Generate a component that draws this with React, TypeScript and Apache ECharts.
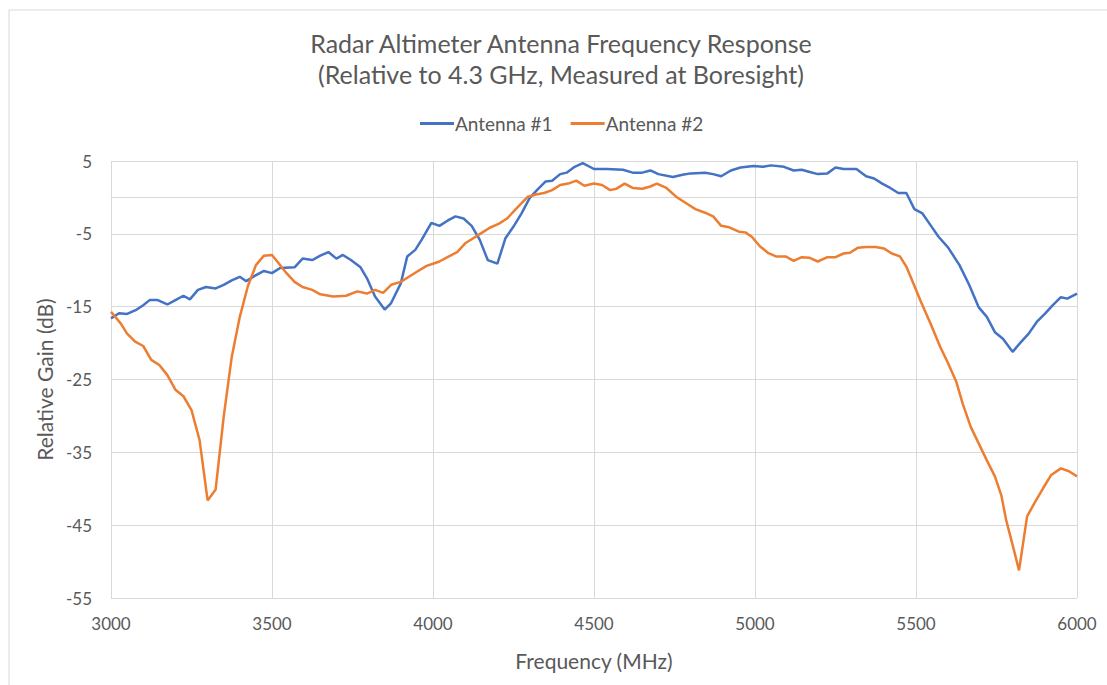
import React, { useEffect, useRef } from "react";
import * as echarts from "echarts";

const titleLines = ["Radar Altimeter Antenna Frequency Response", "(Relative to 4.3 GHz, Measured at Boresight)"];
const seriesNames = ["Antenna #1", "Antenna #2"];
const xAxisName = "Frequency (MHz)";
const yAxisName = "Relative Gain (dB)";

const freq1 = [
  3000, 3025, 3050, 3080, 3100, 3120, 3145, 3175, 3200, 3225, 3245, 3270, 3295, 3325, 3350, 3375, 3400, 3420, 3445, 3475,
  3500, 3525, 3570, 3595, 3625, 3650, 3675, 3700, 3720, 3745, 3775, 3795, 3820, 3850, 3870, 3900, 3920, 3945, 3965, 3995,
  4020, 4045, 4070, 4095, 4120, 4145, 4170, 4200, 4225, 4250, 4275, 4300, 4325, 4350, 4370, 4395, 4415, 4440, 4465, 4500,
  4540, 4590, 4620, 4650, 4675, 4700, 4745, 4775, 4800, 4845, 4870, 4895, 4925, 4955, 4995, 5025, 5050, 5090, 5120, 5145,
  5170, 5195, 5225, 5250, 5275, 5315, 5345, 5370, 5395, 5420, 5445, 5470, 5495, 5520, 5545, 5570, 5600, 5635, 5665, 5695,
  5720, 5745, 5770, 5800, 5825, 5850, 5875, 5900, 5925, 5950, 5970, 6000,
];
const gain1 = [
  -16.6, -15.9, -16.0, -15.4, -14.8, -14.1, -14.1, -14.7, -14.1, -13.5, -14.0, -12.7, -12.3, -12.5, -12.0, -11.4, -10.9, -11.5, -10.8, -10.1,
  -10.4, -9.7, -9.6, -8.4, -8.6, -8.0, -7.5, -8.4, -7.9, -8.6, -9.6, -11.1, -13.6, -15.4, -14.5, -11.8, -8.1, -7.2, -5.8, -3.5,
  -3.9, -3.2, -2.6, -2.9, -3.9, -5.8, -8.6, -9.1, -5.6, -4.0, -2.2, -0.1, 1.1, 2.2, 2.3, 3.2, 3.4, 4.2, 4.7, 3.9,
  3.9, 3.8, 3.4, 3.4, 3.7, 3.2, 2.8, 3.1, 3.3, 3.4, 3.2, 2.9, 3.7, 4.1, 4.3, 4.2, 4.4, 4.2, 3.7, 3.8,
  3.5, 3.2, 3.3, 4.1, 3.9, 3.9, 2.9, 2.6, 1.9, 1.3, 0.6, 0.6, -1.6, -2.2, -3.8, -5.4, -6.9, -9.3, -12.0, -15.1,
  -16.4, -18.5, -19.4, -21.2, -19.9, -18.7, -17.1, -16.0, -14.8, -13.7, -13.9, -13.2,
];

const freq2 = [
  3000, 3030, 3050, 3075, 3100, 3125, 3150, 3175, 3200, 3225, 3250, 3275, 3300, 3325, 3350, 3375, 3400, 3425, 3450, 3475,
  3500, 3520, 3545, 3570, 3595, 3625, 3650, 3690, 3730, 3765, 3795, 3820, 3845, 3870, 3900, 3925, 3950, 3980, 4000, 4020,
  4045, 4075, 4100, 4125, 4150, 4175, 4205, 4230, 4255, 4275, 4295, 4320, 4345, 4370, 4395, 4420, 4445, 4470, 4500, 4525,
  4550, 4570, 4595, 4620, 4650, 4675, 4695, 4725, 4755, 4790, 4815, 4845, 4870, 4895, 4920, 4950, 4970, 4990, 5015, 5040,
  5065, 5095, 5120, 5145, 5170, 5195, 5225, 5250, 5275, 5295, 5320, 5345, 5375, 5400, 5425, 5450, 5470, 5490, 5515, 5545,
  5575, 5600, 5625, 5645, 5670, 5695, 5720, 5745, 5765, 5780, 5800, 5820, 5845, 5870, 5895, 5920, 5950, 5975, 6000,
];
const gain2 = [
  -15.7, -17.3, -18.7, -19.8, -20.4, -22.3, -23.0, -24.4, -26.4, -27.3, -29.2, -33.3, -41.6, -40.1, -30.1, -21.9, -16.4, -12.2, -9.3, -8.0,
  -7.9, -9.0, -10.4, -11.6, -12.3, -12.7, -13.3, -13.6, -13.5, -12.9, -13.2, -12.7, -13.1, -12.0, -11.6, -10.9, -10.2, -9.4, -9.1, -8.8,
  -8.2, -7.5, -6.3, -5.6, -4.9, -4.2, -3.6, -2.9, -1.7, -0.8, 0.1, 0.4, 0.6, 1.0, 1.7, 1.9, 2.3, 1.6, 1.9, 1.7,
  1.0, 1.2, 1.9, 1.3, 1.2, 1.5, 1.9, 1.3, 0.1, -0.9, -1.6, -2.1, -2.6, -3.9, -4.1, -4.7, -4.8, -5.4, -6.7, -7.6,
  -8.1, -8.1, -8.7, -8.2, -8.3, -8.8, -8.2, -8.2, -7.7, -7.6, -6.9, -6.8, -6.8, -7.0, -7.7, -8.1, -9.5, -11.6, -14.3, -17.3,
  -20.5, -22.8, -25.3, -28.3, -31.5, -33.8, -36.1, -38.3, -40.9, -44.3, -47.7, -51.2, -43.8, -41.8, -39.9, -38.1, -37.2, -37.6, -38.3,
];

const xMin = 3000;
const xMax = 6000;
const xStep = 500;
const yMin = -55;
const yMax = 5;
const yStep = 10;

const colors = ["#4472C4", "#ED7D31"];
const FONT = "Lato, 'Open Sans', sans-serif";
const TEXT = "#595959";
const GRID = "#d9d9d9";

export default function App() {
  const ref = useRef<HTMLDivElement>(null);
  useEffect(() => {
    document.body.style.margin = "0";
    const chart = echarts.init(ref.current!, null, { renderer: "svg" });
    const pairs = (xs: number[], ys: number[]) => xs.map((x, i) => [x, ys[i]]);
    chart.setOption({
      animation: false,
      backgroundColor: "#ffffff",
      textStyle: { fontFamily: FONT, color: TEXT },
      title: {
        text: titleLines.join("\n"),
        left: 556,
        top: 22,
        textAlign: "center",
        textStyle: { fontFamily: FONT, fontWeight: "normal", fontSize: 25, lineHeight: 31, color: TEXT },
      },
      legend: {
        left: 415,
        top: 109,
        icon: "rect",
        itemWidth: 34,
        itemHeight: 3,
        itemGap: 18,
        textStyle: { fontFamily: FONT, fontSize: 19, color: TEXT, padding: [0, 0, 0, -4] },
        data: seriesNames,
      },
      grid: { left: 111, right: 30, top: 161, bottom: 87, containLabel: false },
      xAxis: {
        type: "value",
        min: xMin,
        max: xMax,
        interval: xStep,
        name: xAxisName,
        nameLocation: "middle",
        nameGap: 52,
        nameTextStyle: { fontFamily: FONT, fontSize: 21, color: TEXT },
        axisLine: { show: true, lineStyle: { color: GRID, width: 1 } },
        axisTick: { show: false },
        axisLabel: { margin: 17, fontFamily: FONT, fontSize: 17, color: TEXT, formatter: (v: number) => String(v) },
        splitLine: { show: true, lineStyle: { color: GRID, width: 1 } },
      },
      yAxis: {
        type: "value",
        min: yMin,
        max: yMax,
        interval: yStep,
        name: yAxisName,
        nameLocation: "middle",
        nameGap: 55,
        nameTextStyle: { fontFamily: FONT, fontSize: 21, color: TEXT },
        axisLine: { show: false },
        axisTick: { show: false },
        axisLabel: { margin: 19, fontFamily: FONT, fontSize: 17, color: TEXT },
        splitLine: { show: true, lineStyle: { color: GRID, width: 1 } },
      },
      graphic: [
        {
          type: "rect",
          shape: { x: 9, y: 10, width: 1120, height: 700 },
          style: { fill: "none", stroke: GRID, lineWidth: 1 },
          silent: true,
        },
      ],
      series: [
        {
          name: seriesNames[0],
          type: "line",
          data: pairs(freq1, gain1),
          showSymbol: false,
          symbol: "none",
          lineStyle: { color: colors[0], width: 2.5 },
          itemStyle: { color: colors[0] },
        },
        {
          name: seriesNames[1],
          type: "line",
          data: pairs(freq2, gain2),
          showSymbol: false,
          symbol: "none",
          lineStyle: { color: colors[1], width: 2.5 },
          itemStyle: { color: colors[1] },
        },
      ],
    });
    return () => chart.dispose();
  }, []);
  return <div ref={ref} style={{ width: 1107, height: 685 }} />;
}
